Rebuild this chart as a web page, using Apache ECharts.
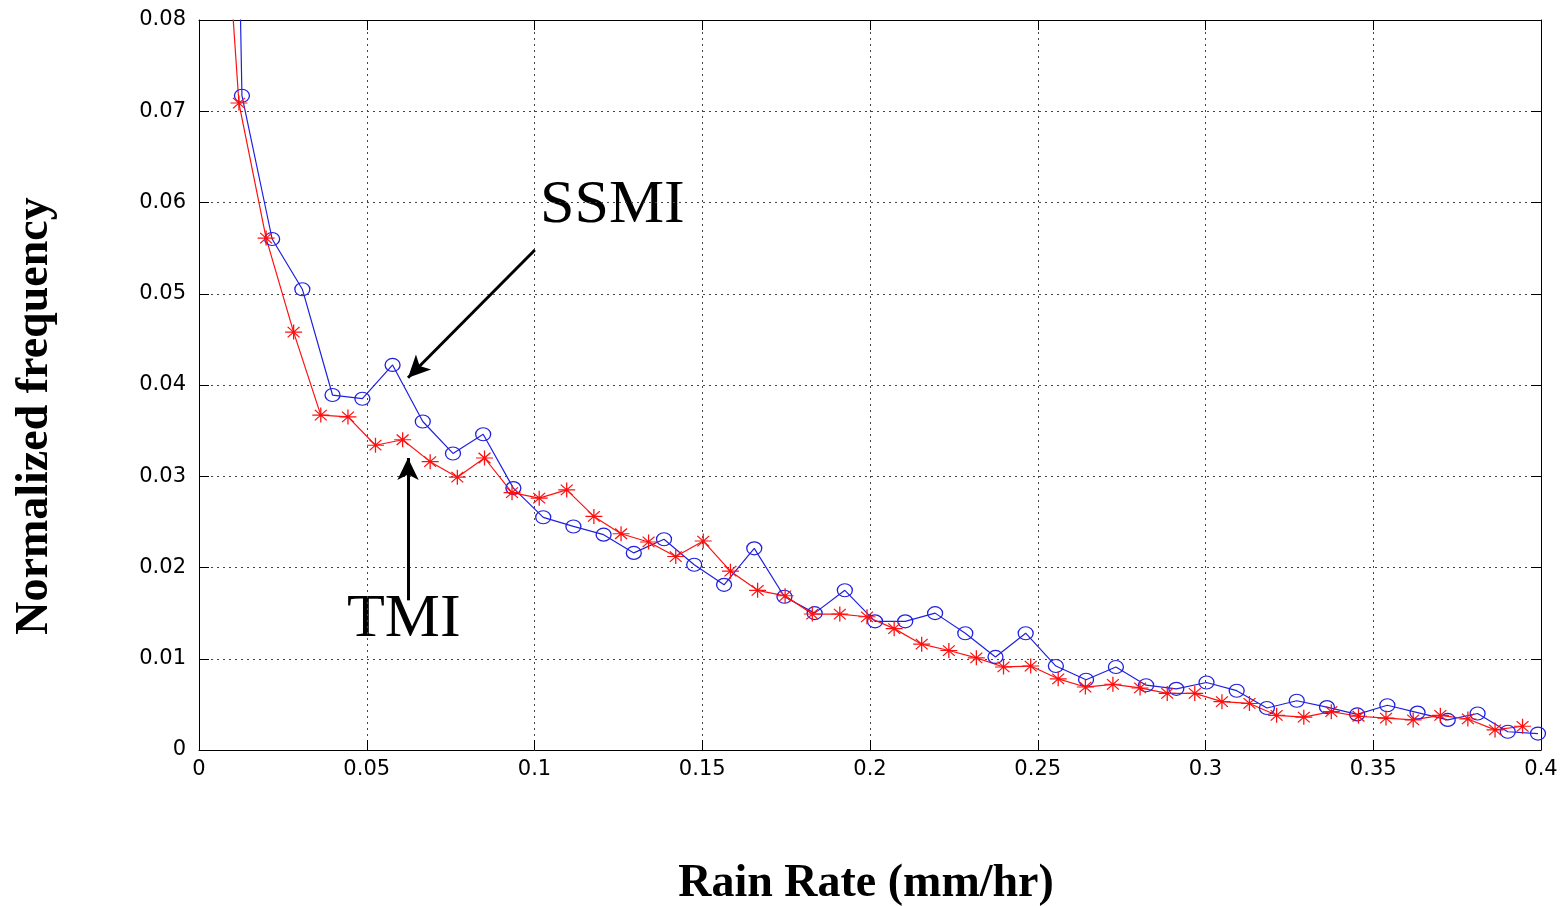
<!DOCTYPE html>
<html>
<head>
<meta charset="utf-8">
<script src="https://cdn.jsdelivr.net/npm/echarts@6/dist/echarts.min.js"></script>
<style>
  html, body { margin: 0; padding: 0; background: #fff; }
  #chart { width: 1567px; height: 906px; }
</style>
</head>
<body>
<div id="chart"></div>
<script>
// SSMI series (blue circles); first point lies above the plotted range
const ssmiX = [0.0038, 0.0128, 0.0218, 0.0308, 0.0398, 0.0487, 0.0577, 0.0667, 0.0757, 0.0847, 0.0937,
  0.1026, 0.1116, 0.1206, 0.1296, 0.1386, 0.1476, 0.1565, 0.1655, 0.1745, 0.1835,
  0.1925, 0.2015, 0.2105, 0.2194, 0.2284, 0.2374, 0.2464, 0.2554, 0.2644, 0.2733,
  0.2823, 0.2913, 0.3003, 0.3093, 0.3183, 0.3272, 0.3362, 0.3452, 0.3542, 0.3632,
  0.3722, 0.3811, 0.3901, 0.3991];
const ssmiY = [0.25, 0.0717, 0.0560, 0.0505, 0.0389, 0.0385, 0.0422, 0.0360, 0.0325, 0.0346, 0.0287,
  0.0255, 0.0245, 0.0236, 0.0216, 0.0231, 0.0203, 0.0181, 0.0221, 0.0168, 0.0150,
  0.0175, 0.0141, 0.0141, 0.0150, 0.0128, 0.0102, 0.0128, 0.0092, 0.0077, 0.0091,
  0.0071, 0.0067, 0.0074, 0.0065, 0.0046, 0.0054, 0.0047, 0.0039, 0.0049, 0.0041,
  0.0033, 0.0040, 0.0020, 0.0018];

// TMI series (red stars)
const tmiX = [0.0037, 0.0119, 0.0200, 0.0282, 0.0363, 0.0444, 0.0526, 0.0607, 0.0689, 0.0770, 0.0851,
  0.0933, 0.1014, 0.1096, 0.1177, 0.1258, 0.1340, 0.1421, 0.1503, 0.1584, 0.1665,
  0.1747, 0.1828, 0.1910, 0.1991, 0.2072, 0.2154, 0.2235, 0.2317, 0.2398, 0.2479,
  0.2561, 0.2642, 0.2724, 0.2805, 0.2886, 0.2968, 0.3049, 0.3131, 0.3212, 0.3293,
  0.3375, 0.3456, 0.3538, 0.3619, 0.3700, 0.3782, 0.3863, 0.3945];
const tmiY = [0.115, 0.0709, 0.0561, 0.0458, 0.0367, 0.0365, 0.0334, 0.0340, 0.0316, 0.0299, 0.0320,
  0.0282, 0.0276, 0.0285, 0.0256, 0.0237, 0.0228, 0.0212, 0.0229, 0.0196, 0.0175,
  0.0169, 0.0149, 0.0149, 0.0146, 0.0133, 0.0116, 0.0109, 0.0101, 0.0091, 0.0092,
  0.0078, 0.0069, 0.0072, 0.0068, 0.0062, 0.0062, 0.0053, 0.0051, 0.0038, 0.0036,
  0.0042, 0.0037, 0.0035, 0.0033, 0.0038, 0.0034, 0.0022, 0.0026];

// annotation arrows, in data units: [from, to]
const ssmiArrow = [[0.1001, 0.0548], [0.0623, 0.0408]];
const tmiArrow = [[0.0623, 0.0164], [0.0623, 0.0320]];

const X_TICKS = { min: 0, max: 0.4, interval: 0.05 };
const Y_TICKS = { min: 0, max: 0.08, interval: 0.01 };

const STAR = "path://M0,-10L0,10M-10,0L10,0M-7,-7L7,7M-7,7L7,-7";
const SERIF = "'Liberation Serif', 'Times New Roman', serif";
const tickFont = { color: "#000", fontFamily: "DejaVu Sans, Arial, sans-serif", fontSize: 21 };

const zip = (xs, ys) => xs.map((x, i) => [x, ys[i]]);

function arrowLine(pts) {
  return {
    silent: true,
    symbol: ["none", "arrow"],
    symbolSize: [16, 22],
    label: { show: false },
    lineStyle: { color: "#000", width: 3, type: "solid" },
    data: [[{ coord: pts[0] }, { coord: pts[1] }]]
  };
}

const chart = echarts.init(document.getElementById("chart"), null, { renderer: "canvas" });

const sideAxis = {
  axisLine: { show: true, onZero: false, lineStyle: { color: "#000", width: 1 } },
  axisTick: { show: true, inside: true, length: 10, lineStyle: { color: "#000" } },
  axisLabel: { show: false },
  splitLine: { show: false }
};

chart.setOption({
  animation: false,
  backgroundColor: "#fff",
  grid: { left: 199, right: 26, top: 20, bottom: 156, show: false },
  xAxis: [
    {
      type: "value",
      ...X_TICKS,
      position: "bottom",
      axisLine: { show: true, onZero: false, lineStyle: { color: "#000", width: 1 } },
      axisTick: { show: true, inside: true, length: 10, lineStyle: { color: "#000" } },
      axisLabel: { ...tickFont, margin: 9 },
      splitLine: { show: true, lineStyle: { color: "#444", width: 1, type: [2, 4] } }
    },
    { type: "value", ...X_TICKS, position: "top", ...sideAxis }
  ],
  yAxis: [
    {
      type: "value",
      ...Y_TICKS,
      position: "left",
      axisLine: { show: true, onZero: false, lineStyle: { color: "#000", width: 1 } },
      axisTick: { show: true, inside: true, length: 10, lineStyle: { color: "#000" } },
      axisLabel: { ...tickFont, margin: 13 },
      splitLine: { show: true, lineStyle: { color: "#444", width: 1, type: [2, 4] } }
    },
    { type: "value", ...Y_TICKS, position: "right", ...sideAxis }
  ],
  series: [
    {
      name: "SSMI",
      type: "line",
      data: zip(ssmiX, ssmiY),
      clip: true,
      symbol: "circle",
      symbolSize: [15, 13],
      lineStyle: { color: "#2020e0", width: 1.2 },
      itemStyle: { color: "rgba(0,0,0,0)", borderColor: "#2020e0", borderWidth: 1.2 },
      markLine: arrowLine(ssmiArrow)
    },
    {
      name: "TMI",
      type: "line",
      data: zip(tmiX, tmiY),
      clip: true,
      symbol: STAR,
      symbolSize: [17, 15],
      lineStyle: { color: "#ff1010", width: 1.2 },
      itemStyle: { color: "#ff1010", borderColor: "#ff1010", borderWidth: 1.2 },
      markLine: arrowLine(tmiArrow)
    }
  ],
  graphic: [
    {
      type: "text",
      x: 866,
      y: 884,
      style: { text: "Rain Rate (mm/hr)", fill: "#000", font: "bold 46px " + SERIF, align: "center", verticalAlign: "middle" }
    },
    {
      type: "text",
      x: 35,
      y: 416,
      rotation: Math.PI / 2,
      style: { text: "Normalized frequency", fill: "#000", font: "bold 46px " + SERIF, align: "center", verticalAlign: "middle" }
    },
    {
      type: "text",
      left: 540,
      top: 175,
      style: { text: "SSMI", fill: "#000", font: "62px " + SERIF }
    },
    {
      type: "text",
      left: 347,
      top: 589,
      style: { text: "TMI", fill: "#000", font: "62px " + SERIF }
    }
  ]
});
</script>
</body>
</html>
